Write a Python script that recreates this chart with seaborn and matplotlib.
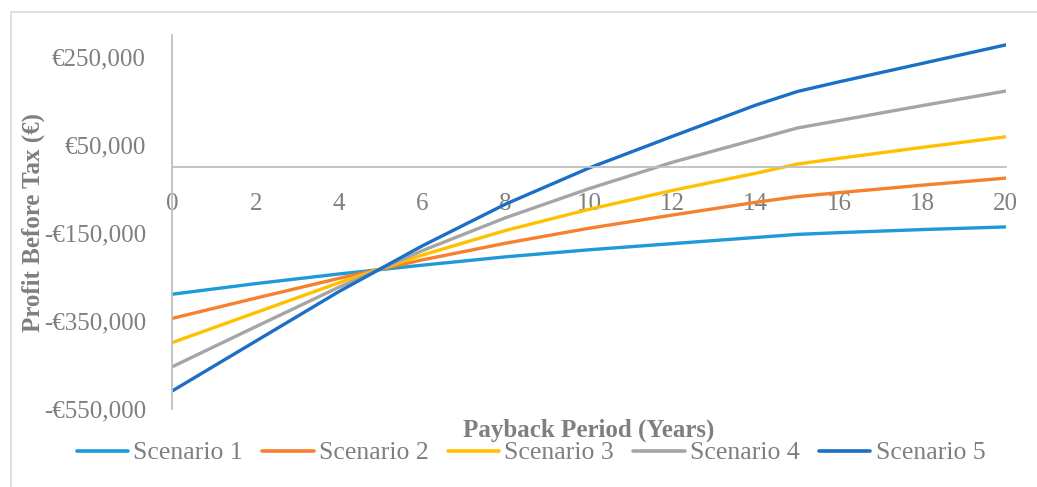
import numpy as np
import pandas as pd
import seaborn as sns
import matplotlib.pyplot as plt
from matplotlib.patches import Rectangle
from matplotlib.ticker import FuncFormatter

# values (EUR)
years = [0, 2, 4, 6, 8, 10, 12, 14, 15, 16, 18, 20]
scenario_1 = [-290000, -266000, -244000, -224000, -205000, -189000, -175000, -161000, -154000, -150000, -143000, -137000]
scenario_2 = [-345000, -299000, -254000, -212000, -174000, -140000, -110000, -81000, -68000, -59000, -42000, -26000]
scenario_3 = [-400000, -332000, -264000, -201000, -145000, -97000, -54000, -15000, 6000, 19000, 44000, 68000]
scenario_4 = [-455000, -364000, -274000, -191000, -116000, -50000, 10000, 62000, 88000, 105000, 139000, 172000]
scenario_5 = [-510000, -397000, -284000, -180000, -85000, -3000, 69000, 140000, 171000, 193000, 235000, 277000]

names = ["Scenario 1", "Scenario 2", "Scenario 3", "Scenario 4", "Scenario 5"]
colors = ["#1f9ad8", "#f7802f", "#ffc000", "#a5a5a5", "#1b6fc4"]
y_ticks = [-550000, -350000, -150000, 50000, 250000]
x_ticks = list(range(0, 21, 2))

df = pd.DataFrame({
    "year": years * 5,
    "profit": scenario_1 + scenario_2 + scenario_3 + scenario_4 + scenario_5,
    "scenario": [n for n in names for _ in years],
})

sns.set_theme(style="white")
plt.rcParams["font.family"] = ["Liberation Serif", "DejaVu Serif"]
text_grey = "#7f7f7f"
axis_grey = "#bfbfbf"

W, H = 1037, 487
fig = plt.figure(figsize=(W / 100, H / 100), dpi=100)

# light outer chart border
fig.patches.append(Rectangle((10.5 / W, -0.05), 1.2, 1 - 11.5 / H + 0.05,
                             transform=fig.transFigure, fill=False,
                             edgecolor="#d9d9d9", linewidth=1.2))

left, right, top, bottom = 172.3, 1005.7, 34.8, 408.5
ax = fig.add_axes([left / W, 1 - bottom / H, (right - left) / W, (bottom - top) / H])

sns.lineplot(data=df, x="year", y="profit", hue="scenario", palette=colors,
             linewidth=2.4, ax=ax, legend=True)

ax.set_xlim(0, 20)
ax.set_ylim(-550000, 300000)
ax.set_xticks(x_ticks)
ax.set_yticks(y_ticks)
ax.yaxis.set_major_formatter(FuncFormatter(
    lambda v, p: ("-€{:,.0f}" if v < 0 else "€{:,.0f}").format(abs(v))))

for s in ["top", "right"]:
    ax.spines[s].set_visible(False)
ax.spines["bottom"].set_position(("data", 0))
ax.spines["left"].set_color(axis_grey)
ax.spines["bottom"].set_color(axis_grey)
ax.spines["left"].set_linewidth(1.3)
ax.spines["bottom"].set_linewidth(1.3)

ax.tick_params(axis="x", length=0, pad=19, labelsize=18, labelcolor=text_grey)
ax.tick_params(axis="y", length=0, pad=19, labelsize=18, labelcolor=text_grey)
ax.set_xlabel("")
ax.set_ylabel("")

fig.text(589 / W, 1 - 430 / H, "Payback Period (Years)", ha="center", va="center",
         fontsize=18, fontweight="bold", color=text_grey)
fig.text(33 / W, 1 - 222 / H, "Profit Before Tax (€)", ha="center", va="center",
         rotation=90, fontsize=18, fontweight="bold", color=text_grey)

handles, labels = ax.get_legend_handles_labels()
ax.get_legend().remove()
for h in handles:
    h.set_linewidth(2.6)
leg = fig.legend(handles, labels, loc="center", bbox_to_anchor=(531 / W, 1 - 453 / H),
                 ncol=5, frameon=False, fontsize=18.5, handlelength=2.0,
                 handletextpad=0.2, columnspacing=0.75, borderpad=0)
for t in leg.get_texts():
    t.set_color(text_grey)

fig.savefig("out.png", dpi=100)
